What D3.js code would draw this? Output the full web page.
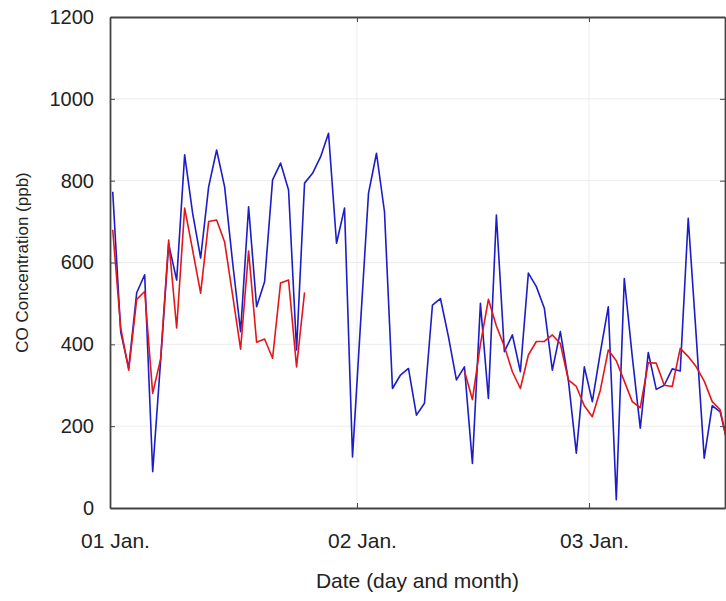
<!DOCTYPE html>
<html>
<head>
<meta charset="utf-8">
<script src="https://cdn.jsdelivr.net/npm/d3@7"></script>
<style>
  body { margin: 0; background: #fff; }
  svg { display: block; font-family: "Liberation Sans", Arial, Helvetica, sans-serif; }
  .tick text { fill: #222; }
</style>
</head>
<body>
<svg id="chart" width="726" height="601"></svg>
<script>
// sample values (ppb), one per sample index
var blueVals = [773, 430, 342, 526, 570, 89, 362, 645, 557, 863,
  720, 611, 785, 875, 785, 600, 431, 736, 492, 553,
  802, 843, 777, 386, 794, 818, 858, 916, 647, 733,
  125, 450, 769, 867, 724, 292, 325, 341, 227, 256,
  496, 512, 419, 313, 345, 109, 500, 268, 716, 382,
  423, 333, 574, 541, 488, 337, 431, 313, 134, 345,
  260, 380, 492, 20, 561, 370, 195, 380, 290, 300,
  340, 335, 708, 420, 122, 250, 235, 150];
// null = no model value
var redVals = [680, 440, 337, 510, 529, 280, 365, 655, 440, 733,
  630, 525, 700, 704, 650, 520, 388, 628, 405, 413,
  366, 550, 557, 345, 527, null, null, null, null, null,
  null, null, null, null, null, null, null, null, null, null,
  null, null, null, null, 335, 265, 400, 510, 445, 395,
  333, 292, 374, 407, 407, 423, 402, 313, 297, 250,
  223, 288, 386, 360, 310, 260, 245, 355, 354, 300,
  297, 390, 370, 345, 310, 260, 240, 150];
var dayTicks = [-0.34, 30.56, 59.59];
var dayLabels = ["01 Jan.", "02 Jan.", "03 Jan."];
var yTicks = [0, 200, 400, 600, 800, 1000, 1200];

var margin = {left: 110, right: 1, top: 17, bottom: 93};
var W = 726, H = 601;
var svg = d3.select("#chart");

var x = d3.scaleLinear().domain([-0.34, 76.6]).range([margin.left, W - margin.right]);
var y = d3.scaleLinear().domain([0, 1200]).range([H - margin.bottom, margin.top]);

// faint grid
svg.append("g").selectAll("line").data(yTicks.slice(1, -1)).join("line")
  .attr("x1", x.range()[0]).attr("x2", x.range()[1])
  .attr("y1", d => y(d)).attr("y2", d => y(d))
  .attr("stroke", "#ececec").attr("stroke-width", 1);
svg.append("g").selectAll("line").data(dayTicks.slice(1)).join("line")
  .attr("x1", d => x(d)).attr("x2", d => x(d))
  .attr("y1", y.range()[0]).attr("y2", y.range()[1])
  .attr("stroke", "#ececec").attr("stroke-width", 1);

svg.append("clipPath").attr("id", "clip").append("rect")
  .attr("x", x.range()[0]).attr("y", y.range()[1])
  .attr("width", x.range()[1] - x.range()[0])
  .attr("height", y.range()[0] - y.range()[1]);

var line = d3.line()
  .defined(d => d != null)
  .x((d, i) => x(i))
  .y(d => y(d));

var plot = svg.append("g").attr("clip-path", "url(#clip)");
plot.append("path").datum(blueVals)
  .attr("fill", "none").attr("stroke", "#1c1cc8").attr("stroke-width", 1.6)
  .attr("stroke-linejoin", "round").attr("d", line);
plot.append("path").datum(redVals)
  .attr("fill", "none").attr("stroke", "#e3161a").attr("stroke-width", 1.6)
  .attr("stroke-linejoin", "round").attr("d", line);

// axes, ticks inward
var fmtDay = d => dayLabels[dayTicks.indexOf(d)];
var gx = svg.append("g").attr("transform", "translate(0," + y.range()[0] + ")")
  .call(d3.axisBottom(x).tickValues(dayTicks).tickFormat(fmtDay).tickSizeInner(-5).tickSizeOuter(0).tickPadding(25));
gx.selectAll("text").attr("font-size", 21).attr("dx", 5);
svg.append("g").attr("transform", "translate(0," + y.range()[1] + ")")
  .call(d3.axisTop(x).tickValues(dayTicks).tickFormat("").tickSizeInner(-5).tickSizeOuter(0));

var gy = svg.append("g").attr("transform", "translate(" + x.range()[0] + ",0)")
  .call(d3.axisLeft(y).tickValues(yTicks).tickFormat(d3.format("d")).tickSizeInner(-5).tickSizeOuter(0).tickPadding(16));
gy.selectAll("text").attr("font-size", 20);
svg.append("g").attr("transform", "translate(" + x.range()[1] + ",0)")
  .call(d3.axisRight(y).tickValues(yTicks).tickFormat("").tickSizeInner(-5).tickSizeOuter(0));

svg.selectAll(".domain").attr("stroke", "#444").attr("stroke-width", 1.8);
svg.selectAll(".tick line").attr("stroke", "#444");

svg.append("text")
  .attr("x", (x.range()[0] + x.range()[1]) / 2).attr("y", 588)
  .attr("text-anchor", "middle").attr("font-size", 21).attr("fill", "#222")
  .text("Date (day and month)");
svg.append("text")
  .attr("transform", "translate(28," + (y.range()[0] + y.range()[1]) / 2 + ") rotate(-90)")
  .attr("text-anchor", "middle").attr("font-size", 17).attr("fill", "#222")
  .text("CO Concentration (ppb)");
</script>
</body>
</html>
